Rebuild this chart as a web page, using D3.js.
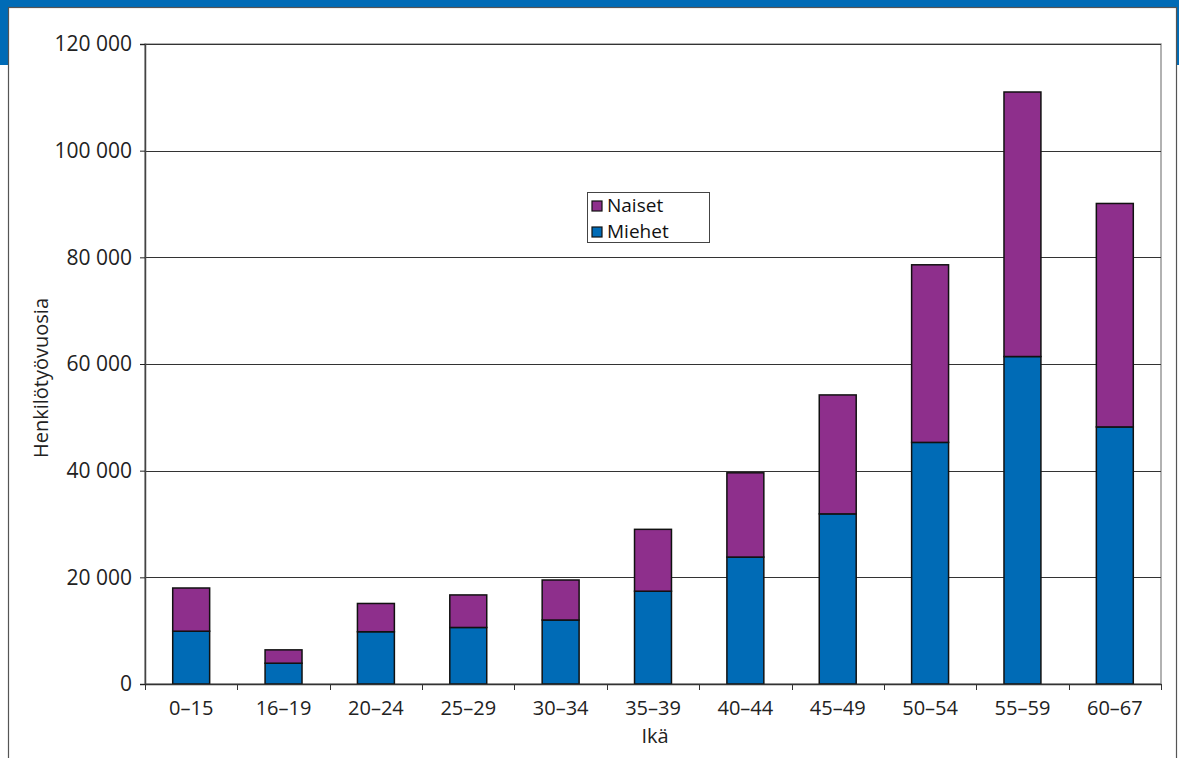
<!DOCTYPE html>
<html>
<head>
<meta charset="utf-8">
<script src="https://cdn.jsdelivr.net/npm/d3@7"></script>
<style>
  html, body { margin: 0; padding: 0; background: #fff; }
  svg { display: block; font-family: "Open Sans", sans-serif; }
</style>
</head>
<body>
<svg width="1179" height="758"></svg>
<script>
// age groups and person-years per group
const ages = ["0–15", "16–19", "20–24", "25–29", "30–34", "35–39", "40–44", "45–49", "50–54", "55–59", "60–67"];
const miehet = [9900, 3900, 9800, 10600, 12000, 17400, 23800, 31900, 45300, 61400, 48200];
const naiset = [8100, 2500, 5300, 6100, 7500, 11600, 15800, 22300, 33300, 49600, 41900];
const yTicks = [0, 20000, 40000, 60000, 80000, 100000, 120000];
const seriesNames = ["Naiset", "Miehet"];

const blue = "#006bb6";
const purple = "#8e2f8c";

const svg = d3.select("svg");
const margin = { top: 44, right: 18, bottom: 74, left: 145 };
const width = 1179 - margin.left - margin.right;
const height = 758 - margin.top - margin.bottom;

// page frame: blue header band with the white panel on top
svg.append("rect").attr("x", 0).attr("y", 0).attr("width", 1179).attr("height", 65).attr("fill", blue);
svg.append("rect")
   .attr("x", 8.5).attr("y", 7.5).attr("width", 1168).attr("height", 800)
   .attr("fill", "#fff").attr("stroke", "#555").attr("stroke-width", 1.2);

const g = svg.append("g").attr("transform", `translate(${margin.left}, ${margin.top})`);

const rows = ages.map((a, i) => ({ age: a, Miehet: miehet[i], Naiset: naiset[i] }));
const stacked = d3.stack().keys(["Miehet", "Naiset"])(rows);

const x = d3.scaleBand().domain(ages).range([0, width]).paddingInner(0.6).paddingOuter(0.3);
const xEdge = d3.scaleBand().domain(ages).range([0, width]).padding(0);
const y = d3.scaleLinear().domain([0, 120000]).range([height, 0]);

// plot frame
g.append("rect").attr("x", 0).attr("y", 0).attr("width", width).attr("height", height)
 .attr("fill", "none").attr("stroke", "#999").attr("stroke-width", 1.5);

// gridlines
g.append("g").selectAll("line").data(yTicks.slice(1)).enter().append("line")
 .attr("x1", 0).attr("x2", width)
 .attr("y1", d => Math.round(y(d)) + 0.5).attr("y2", d => Math.round(y(d)) + 0.5)
 .attr("stroke", "#333").attr("stroke-width", 1);

// bars
const colors = { Miehet: blue, Naiset: purple };
g.append("g").selectAll("g").data(stacked).enter().append("g")
 .attr("fill", d => colors[d.key])
 .selectAll("rect").data(d => d).enter().append("rect")
 .attr("x", d => x(d.data.age))
 .attr("y", d => y(d[1]))
 .attr("width", x.bandwidth())
 .attr("height", d => y(d[0]) - y(d[1]))
 .attr("stroke", "#111").attr("stroke-width", 1.5);

// y axis
const fmt = d3.formatLocale({ decimal: ",", thousands: " ", grouping: [3], currency: ["", ""] }).format(",d");
const yAxis = g.append("g")
 .call(d3.axisLeft(y).tickValues(yTicks).tickFormat(fmt).tickSize(5).tickPadding(8));
yAxis.select(".domain").attr("stroke", "#444").attr("stroke-width", 1.5);
yAxis.selectAll(".tick line").attr("stroke", "#222");
yAxis.selectAll("text").attr("font-size", 21).attr("fill", "#222").attr("font-family", "Open Sans");

// x axis: labels at band centres, ticks at band edges
const xAxis = g.append("g").attr("transform", `translate(0, ${height})`)
 .call(d3.axisBottom(x).tickSize(0).tickPadding(17).tickSizeOuter(0));
xAxis.select(".domain").attr("stroke", "#333").attr("stroke-width", 1.5);
xAxis.selectAll("text").attr("font-size", 20).attr("fill", "#222").attr("font-family", "Open Sans");

g.append("g").attr("transform", `translate(0, ${height})`)
 .selectAll("line").data(ages.map(a => xEdge(a)).concat([width])).enter().append("line")
 .attr("x1", d => Math.round(d) + 0.5).attr("x2", d => Math.round(d) + 0.5)
 .attr("y1", 0).attr("y2", 6)
 .attr("stroke", "#333").attr("stroke-width", 1);

// axis titles
svg.append("text")
   .attr("transform", "translate(48, 378) rotate(-90)")
   .attr("text-anchor", "middle")
   .attr("font-size", 20).attr("fill", "#222")
   .text("Henkilötyövuosia");

svg.append("text")
   .attr("x", margin.left + width / 2 + 2).attr("y", 743)
   .attr("text-anchor", "middle")
   .attr("font-size", 20).attr("fill", "#222")
   .text("Ikä");

// legend
const legend = svg.append("g").attr("transform", "translate(587, 192)");
legend.append("rect").attr("x", 0.5).attr("y", 0.5).attr("width", 122).attr("height", 50)
      .attr("fill", "#fff").attr("stroke", "#444").attr("stroke-width", 1);
seriesNames.forEach((name, i) => {
  legend.append("rect")
        .attr("x", 5).attr("y", 9 + i * 26).attr("width", 10).attr("height", 10)
        .attr("fill", colors[name]).attr("stroke", "#111").attr("stroke-width", 1.2);
  legend.append("text")
        .attr("x", 20).attr("y", 20 + i * 26)
        .attr("font-size", 19).attr("fill", "#111")
        .text(name);
});
</script>
</body>
</html>
